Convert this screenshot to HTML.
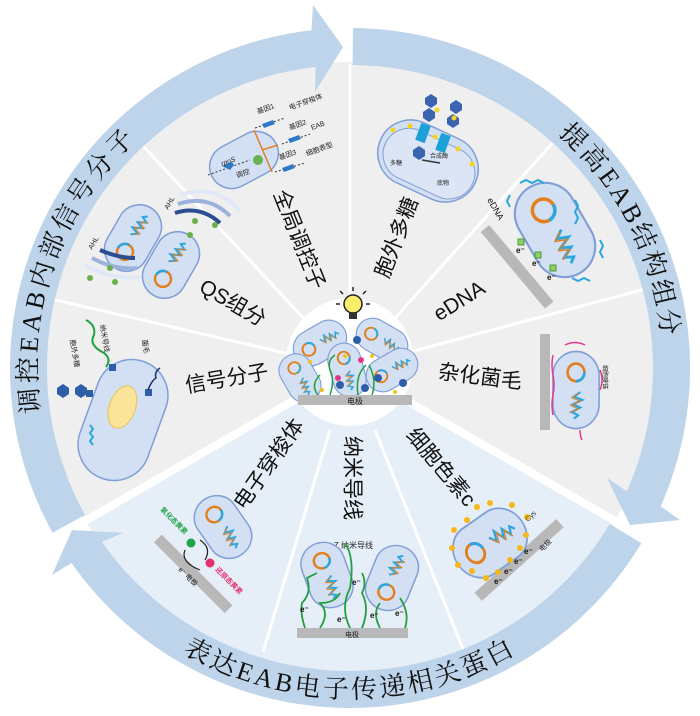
<!DOCTYPE html>
<html><head><meta charset="utf-8">
<style>
html,body{margin:0;padding:0;background:#fff;}
svg{display:block;}
text{font-family:"Liberation Sans","Noto Sans CJK SC",sans-serif;}
.st{font-size:21px;fill:#111;}
.rt{font-size:26px;fill:#111;font-family:"Liberation Serif","Noto Serif CJK SC","Noto Sans CJK SC",serif;}
.sm{font-size:7px;fill:#222;}
</style></head>
<body>
<svg width="700" height="716" viewBox="0 0 700 716" xmlns="http://www.w3.org/2000/svg">
<defs>
<g id="cell">
 <rect x="-35" y="-22" width="70" height="44" rx="22" fill="#d3dff3" stroke="#809ed6" stroke-width="1.5"/>
 <circle cx="-16" cy="0" r="8" fill="none" stroke="#e2801f" stroke-width="2.5"/>
 <path d="M-16,-8 A8,8 0 0 1 -8,0" fill="none" stroke="#2aa7e0" stroke-width="2.5"/>
 <path d="M2,-4 l4,6 l3,-8 l4,9 l3,-7 l4,8 l3,-6 l3,4" fill="none" stroke="#2aa7e0" stroke-width="2"/>
 <path d="M3,-2 l4,6 l3,-8 l4,9 l3,-7 l4,8" fill="none" stroke="#e2801f" stroke-width="1"/>
</g>
</defs>

<!-- gray disk -->
<circle cx="350" cy="368" r="306" fill="#efeff0"/>
<!-- lower blue sector -->
<path d="M350,368 L87.6,519.5 A303,303 0 0 0 612.4,519.5 Z" fill="#e6eef8"/>

<!-- ring arcs -->
<g fill="#bdd4ea">
<path d="M52.6,532.8 A340,340 0 0 1 311.5,30.2 L313,5 L343,47 L315,92 L315.7,66.9 A303,303 0 0 0 85,514.9 Z"/>
<path d="M353,28 A340,340 0 0 1 660.6,506.3 L680,520 L630,525 L607,478 L626.8,491.2 A303,303 0 0 0 352.6,65 Z"/>
<path d="M641.4,543.1 A340,340 0 0 1 71.5,563 L52,575 L72,530 L123,533 L101.8,541.8 A303,303 0 0 0 609.7,524 Z"/>
</g>

<!-- dividers -->
<g stroke="#fff" stroke-linecap="butt">
<line x1="350" y1="368" x2="85" y2="521" stroke-width="8"/>
<line x1="350" y1="368" x2="615" y2="521" stroke-width="8"/>
<line x1="350" y1="300" x2="350" y2="64" stroke-width="3"/>
<line x1="350" y1="368" x2="143.4" y2="146.4" stroke-width="3"/>
<line x1="350" y1="368" x2="54.8" y2="299.8" stroke-width="3"/>
<line x1="350" y1="368" x2="552.7" y2="142.8" stroke-width="3"/>
<line x1="350" y1="368" x2="642.7" y2="289.6" stroke-width="3"/>
<line x1="330" y1="430" x2="263" y2="652" stroke-width="3"/>
<line x1="375" y1="430" x2="463" y2="649" stroke-width="3"/>
</g>

<!-- ring text -->
<path id="pL" d="M93.6,547.5 A313,313 0 0 1 377.3,56.2" fill="none"/>
<path id="pR" d="M377.3,56.2 A313,313 0 0 1 589.8,569.2" fill="none"/>
<path id="pB" d="M64.2,533 A330,330 0 0 0 635.8,533" fill="none"/>
<text class="rt" letter-spacing="4"><textPath href="#pL" startOffset="42%" text-anchor="middle">调控EAB内部信号分子</textPath></text>
<text class="rt" letter-spacing="3"><textPath href="#pR" startOffset="46.5%" text-anchor="middle">提高EAB结构组分</textPath></text>
<text class="rt" letter-spacing="3"><textPath href="#pB" startOffset="50%" text-anchor="middle">表达EAB电子传递相关蛋白</textPath></text>

<!-- center circle -->
<circle cx="350" cy="362" r="64" fill="#fff"/>
<!-- bulb -->
<g transform="translate(353,306)">
 <circle cx="0" cy="-2" r="9" fill="#f7ee6a" stroke="#222" stroke-width="1.5"/>
 <rect x="-4" y="7" width="8" height="6" fill="#333"/>
 <g stroke="#222" stroke-width="1.5"><line x1="0" y1="-15" x2="0" y2="-19"/><line x1="-13" y1="-2" x2="-17" y2="-2"/><line x1="13" y1="-2" x2="17" y2="-2"/><line x1="-10" y1="-12" x2="-13" y2="-15"/><line x1="10" y1="-12" x2="13" y2="-15"/></g>
</g>
<g transform="translate(320,343) rotate(-30) scale(0.8,0.8)"><use href="#cell"/></g>
<g transform="translate(300,378) rotate(60) scale(0.72,0.75)"><use href="#cell"/></g>
<g transform="translate(347,370) rotate(75) scale(0.78,0.75)"><use href="#cell"/></g>
<g transform="translate(382,340) rotate(30) scale(0.78,0.75)"><use href="#cell"/></g>
<g transform="translate(392,370) rotate(-30) scale(0.78,0.75)"><use href="#cell"/></g>
<g fill="none" stroke="#22a040" stroke-width="1.5">
<path d="M330,395 q5,-15 0,-25 q-3,-10 5,-15"/><path d="M358,395 q-3,-20 8,-30"/><path d="M372,395 q5,-15 -3,-30"/><path d="M318,395 q-8,-10 2,-20"/>
</g>
<g fill="#2f5ea8"><circle cx="340" cy="385" r="4"/><circle cx="365" cy="388" r="4"/><circle cx="378" cy="378" r="4"/><circle cx="357" cy="340" r="4"/><circle cx="403" cy="383" r="4"/></g>
<g fill="#f2c318"><circle cx="322" cy="390" r="2"/><circle cx="345" cy="356" r="2"/><circle cx="372" cy="356" r="2"/><circle cx="395" cy="392" r="2"/><circle cx="310" cy="362" r="2"/></g>
<circle cx="338" cy="378" r="3" fill="#e23a8a"/><circle cx="361" cy="360" r="3" fill="#e23a8a"/>
<rect x="298" y="395" width="114" height="10" fill="#b8b8b8"/>
<text x="355" y="404" font-size="8" text-anchor="middle" fill="#222">电极</text>

<!-- sector texts -->
<text class="st" transform="translate(232,304) rotate(30)" text-anchor="middle" dominant-baseline="middle">QS组分</text>
<text class="st" transform="translate(227,380) rotate(-10)" text-anchor="middle" dominant-baseline="middle">信号分子</text>
<text class="st" transform="translate(298,240) rotate(68)" text-anchor="middle" dominant-baseline="middle">全局调控子</text>
<text class="st" transform="translate(398,238) rotate(-69)" text-anchor="middle" dominant-baseline="middle">胞外多糖</text>
<text class="st" transform="translate(460,302) rotate(-32)" text-anchor="middle" dominant-baseline="middle" font-family="Liberation Serif,serif">eDNA</text>
<text class="st" transform="translate(480,378) rotate(7)" text-anchor="middle" dominant-baseline="middle">杂化菌毛</text>
<text class="st" transform="translate(270,465) rotate(-55)" text-anchor="middle" dominant-baseline="middle">电子穿梭体</text>
<text class="st" transform="translate(351,478) rotate(90)" text-anchor="middle" dominant-baseline="middle">纳米导线</text>
<text class="st" transform="translate(440,468) rotate(50)" text-anchor="middle" dominant-baseline="middle">细胞色素c</text>

<!-- QS illustration -->
<g transform="translate(133,238) rotate(-60)"><use href="#cell"/></g>
<g transform="translate(171,265) rotate(-60)"><use href="#cell"/></g>
<g fill="none" stroke-width="4">
<path d="M85,265 q25,15 55,12" stroke="#dfe8f4"/><path d="M92,258 q22,12 45,10" stroke="#9bb3dc"/><path d="M100,250 q18,8 35,8" stroke="#2b4e93"/>
<path d="M175,213 q25,-8 45,10" stroke="#2b4e93"/><path d="M178,204 q30,-10 52,12" stroke="#9bb3dc"/><path d="M180,195 q35,-12 60,16" stroke="#dfe8f4"/>
</g>
<g fill="#6ab04c"><circle cx="90" cy="278" r="3"/><circle cx="110" cy="268" r="3"/><circle cx="115" cy="282" r="3"/><circle cx="195" cy="221" r="3"/><circle cx="215" cy="225" r="3"/><circle cx="190" cy="235" r="3"/></g>
<text class="sm" transform="translate(92,250) rotate(-60)">AHL</text>
<text class="sm" transform="translate(168,210) rotate(-60)">AHL</text>

<!-- signal molecule cell -->
<g transform="translate(123,420) rotate(110)">
<rect x="-62" y="-36" width="124" height="72" rx="36" fill="#d3dff3" stroke="#809ed6" stroke-width="1.5"/>
<ellipse cx="-12" cy="5" rx="22" ry="13" fill="#fbe49a" stroke="#e9c24f"/>
</g>
<path d="M86,320 q10,5 8,15 q-6,10 10,18 q8,6 2,14" fill="none" stroke="#22a040" stroke-width="2"/>
<g fill="#2f5ea8"><polygon points="57,388 63,384 69,388 69,394 63,398 57,394"/><polygon points="75,388 81,384 87,388 87,394 81,398 75,394"/><rect x="86" y="390" width="7" height="7"/><rect x="109" y="364" width="7" height="7"/><rect x="145" y="389" width="7" height="7"/></g>
<path d="M148,390 q4,-10 8,-12 q-2,-6 4,-10" fill="none" stroke="#1f2f66" stroke-width="1.5"/>
<path d="M90,425 l3,4 l-3,4 l3,4 l-3,4 l3,4" fill="none" stroke="#2aa7e0" stroke-width="2"/>
<text class="sm" transform="translate(70,340) rotate(80)" font-size="6">胞外多糖</text>
<text class="sm" transform="translate(100,325) rotate(80)" font-size="6">纳米导线</text>
<text class="sm" transform="translate(142,340) rotate(80)" font-size="6">菌毛</text>

<!-- global regulator -->
<g transform="translate(244,160) rotate(-28)">
<rect x="-36" y="-22" width="72" height="44" rx="22" fill="#d3dff3" stroke="#809ed6" stroke-width="1.5"/>
</g>
<circle cx="258" cy="160" r="5" fill="#6ab04c"/>
<g stroke="#e2801f" stroke-width="1.5"><line x1="254" y1="130" x2="272" y2="172"/><line x1="262" y1="150" x2="278" y2="145"/></g>
<g stroke="#333" stroke-dasharray="2,2" fill="none"><path d="M208,175 L250,160"/><path d="M255,128 L285,118"/><path d="M282,144 L310,134"/><path d="M275,172 L305,163"/></g>
<g fill="#2f78c8"><polygon points="222,166 232,162 234,165 230,170"/><polygon points="262,124 273,120 275,124 264,128"/><polygon points="288,139 299,135 301,139 290,143"/><polygon points="282,168 293,164 295,168 284,172"/></g>
<g font-size="7" fill="#222">
<text transform="translate(222,166) rotate(-20)" font-style="italic">rpoS</text>
<text transform="translate(237,178) rotate(-20)">调控</text>
<text transform="translate(258,114) rotate(-20)">基因1</text>
<text transform="translate(290,110) rotate(-20)">电子穿梭体</text>
<text transform="translate(290,130) rotate(-20)">基因2</text>
<text transform="translate(312,130) rotate(-20)">EAB</text>
<text transform="translate(280,160) rotate(-20)">基因3</text>
<text transform="translate(307,156) rotate(-20)">细胞表型</text>
</g>

<!-- EPS -->
<g transform="translate(428,161) rotate(25)">
<rect x="-52" y="-33" width="104" height="66" rx="33" fill="#d3dff3" stroke="#809ed6" stroke-width="1.5"/>
<rect x="-46" y="-24" width="96" height="52" rx="26" fill="#dbe5f5" stroke="#809ed6" stroke-width="1"/>
</g>
<g fill="#1ca0d8"><rect x="418" y="124" width="10" height="18" transform="rotate(20,423,133)"/><rect x="438" y="134" width="10" height="18" transform="rotate(20,443,143)"/></g>
<g fill="#3a63b0"><polygon points="425,98 431,94 437,98 437,104 431,108 425,104"/><polygon points="423,112 429,108 435,112 435,118 429,122 423,118"/><polygon points="450,104 456,100 462,104 462,110 456,114 450,110"/><polygon points="447,118 453,114 459,118 459,124 453,128 447,124"/><polygon points="413,150 419,146 425,150 425,156 419,160 413,156"/></g>
<g fill="#f5d320"><circle cx="393" cy="130" r="2.5"/><circle cx="410" cy="126" r="2.5"/><circle cx="437" cy="110" r="2.5"/><circle cx="454" cy="118" r="2.5"/><circle cx="458" cy="149" r="2.5"/><circle cx="472" cy="164" r="2.5"/><circle cx="435" cy="137" r="2.5"/></g>
<line x1="440" y1="163" x2="422" y2="160" stroke="#333" stroke-width="1.5"/>
<text x="430" y="158" font-size="6" fill="#222">合成酶</text><text x="390" y="165" font-size="6" fill="#222">多糖</text><text x="437" y="185" font-size="6" fill="#222">底物</text>

<!-- eDNA -->
<rect x="470" y="258" width="100" height="11" fill="#b8b8b8" transform="rotate(50,515,262)"/>
<g transform="translate(555,230) rotate(60) scale(1.42,1.4)"><use href="#cell"/></g>
<g fill="none" stroke="#2aa7e0" stroke-width="2"><path d="M520,183 l6,-3 l6,3 l6,-3 l6,3"/><path d="M575,200 l3,6 l-3,6 l3,6 l-3,6"/><path d="M600,240 l3,6 l-3,6 l3,6"/><path d="M572,278 l6,3 l6,-3 l6,3"/><path d="M510,195 l-3,6 l3,6"/></g>
<g fill="#8fcf6a" stroke="#4a9a3a"><rect x="518" y="239" width="6" height="6"/><rect x="535" y="252" width="6" height="6"/><rect x="550" y="265" width="6" height="6"/></g>
<g font-size="8" font-family="Liberation Serif,serif" font-weight="bold" fill="#111"><text x="516" y="253">e⁻</text><text x="532" y="266">e⁻</text><text x="547" y="280">e⁻</text></g>
<text transform="translate(487,200) rotate(60)" font-size="9" font-family="Liberation Serif,serif" fill="#111">eDNA</text>

<!-- hybrid pili -->
<rect x="540" y="334" width="10" height="96" fill="#b8b8b8"/>
<g transform="translate(576,390) rotate(90) scale(1.1,1.05)"><use href="#cell"/></g>
<g fill="none" stroke="#e23a8a" stroke-width="1.5"><path d="M553,355 q-2,10 0,20 q2,10 0,20 q-2,10 0,20"/><path d="M565,345 q10,-5 20,0"/><path d="M600,370 q4,10 0,20"/><path d="M580,430 q0,6 2,10"/></g>
<text transform="translate(603,365) rotate(90)" font-size="6" fill="#222">细胞膜锚</text>

<!-- electron shuttle -->
<rect x="145" y="565" width="100" height="11" fill="#b8b8b8" transform="rotate(45,190,570)"/>
<g transform="translate(223,527) rotate(55) scale(0.95,1)"><use href="#cell"/></g>
<circle cx="191" cy="543" r="4.5" fill="#20a44a"/><circle cx="210" cy="563" r="4.5" fill="#e4316f"/>
<path d="M200,540 q12,8 5,20 M185,550 q-5,12 15,20" fill="none" stroke="#222" stroke-width="1.2"/>
<text transform="translate(160,510) rotate(45)" font-size="7" fill="#20a44a" font-weight="bold">氧化态黄素</text>
<text transform="translate(215,570) rotate(45)" font-size="7" fill="#e4316f" font-weight="bold">还原态黄素</text>
<text transform="translate(178,570) rotate(45)" font-size="7" fill="#111">e⁻ 电极</text>

<!-- nanowire -->
<text x="345" y="548" font-size="8" text-anchor="middle" fill="#222">OmcZ 纳米导线</text>
<g transform="translate(327,575) rotate(70) scale(0.95,1)"><use href="#cell"/></g>
<g transform="translate(392,578) rotate(-68) scale(0.95,1)"><use href="#cell"/></g>
<g fill="none" stroke="#22a040" stroke-width="1.8">
<path d="M305,628 q-5,-15 -3,-25 q10,-10 5,-25 l10,-5"/><path d="M320,628 q10,-15 0,-25 q15,0 20,-10"/><path d="M350,628 q-10,-20 0,-40 q5,-30 -5,-45"/><path d="M362,628 q8,-20 0,-35 q5,-10 0,-20"/><path d="M380,628 q-8,-15 0,-25"/><path d="M405,628 q5,-15 -5,-30"/>
</g>
<g font-size="8" font-family="Liberation Serif,serif" font-weight="bold" fill="#111"><text x="300" y="612">e⁻</text><text x="337" y="622">e⁻</text><text x="352" y="585">e⁻</text><text x="370" y="618">e⁻</text><text x="395" y="616">e⁻</text></g>
<rect x="297" y="628" width="111" height="10" fill="#b8b8b8"/>
<text x="352" y="637" font-size="7" text-anchor="middle" fill="#222">电极</text>

<!-- cytochrome -->
<rect x="465" y="558" width="110" height="11" fill="#b8b8b8" transform="rotate(-42,515,563)"/>
<g transform="translate(490,543) rotate(-35) scale(1.1,1.25)"><use href="#cell"/></g>
<g fill="#f5b818"><circle cx="490" cy="503" r="3"/><circle cx="512" cy="505" r="3"/><circle cx="527" cy="517" r="3"/><circle cx="526" cy="535" r="3"/><circle cx="520" cy="548" r="3"/><circle cx="510" cy="560" r="3"/><circle cx="498" cy="572" r="3"/><circle cx="486" cy="578" r="3"/><circle cx="472" cy="571" r="3"/><circle cx="458" cy="565" r="3"/><circle cx="452" cy="548" r="3"/><circle cx="454" cy="530" r="3"/><circle cx="467" cy="520" r="3"/><circle cx="477" cy="507" r="3"/></g>
<g font-size="8" font-family="Liberation Serif,serif" font-weight="bold" fill="#111"><text x="494" y="584">e⁻</text><text x="504" y="574">e⁻</text><text x="514" y="564">e⁻</text><text x="524" y="554">e⁻</text></g>
<text transform="translate(528,522) rotate(-45)" font-size="7" fill="#333" font-family="Liberation Serif,serif">Cys</text>
<text transform="translate(542,552) rotate(-45)" font-size="7" fill="#222">电极</text>
</svg>
</body></html>
